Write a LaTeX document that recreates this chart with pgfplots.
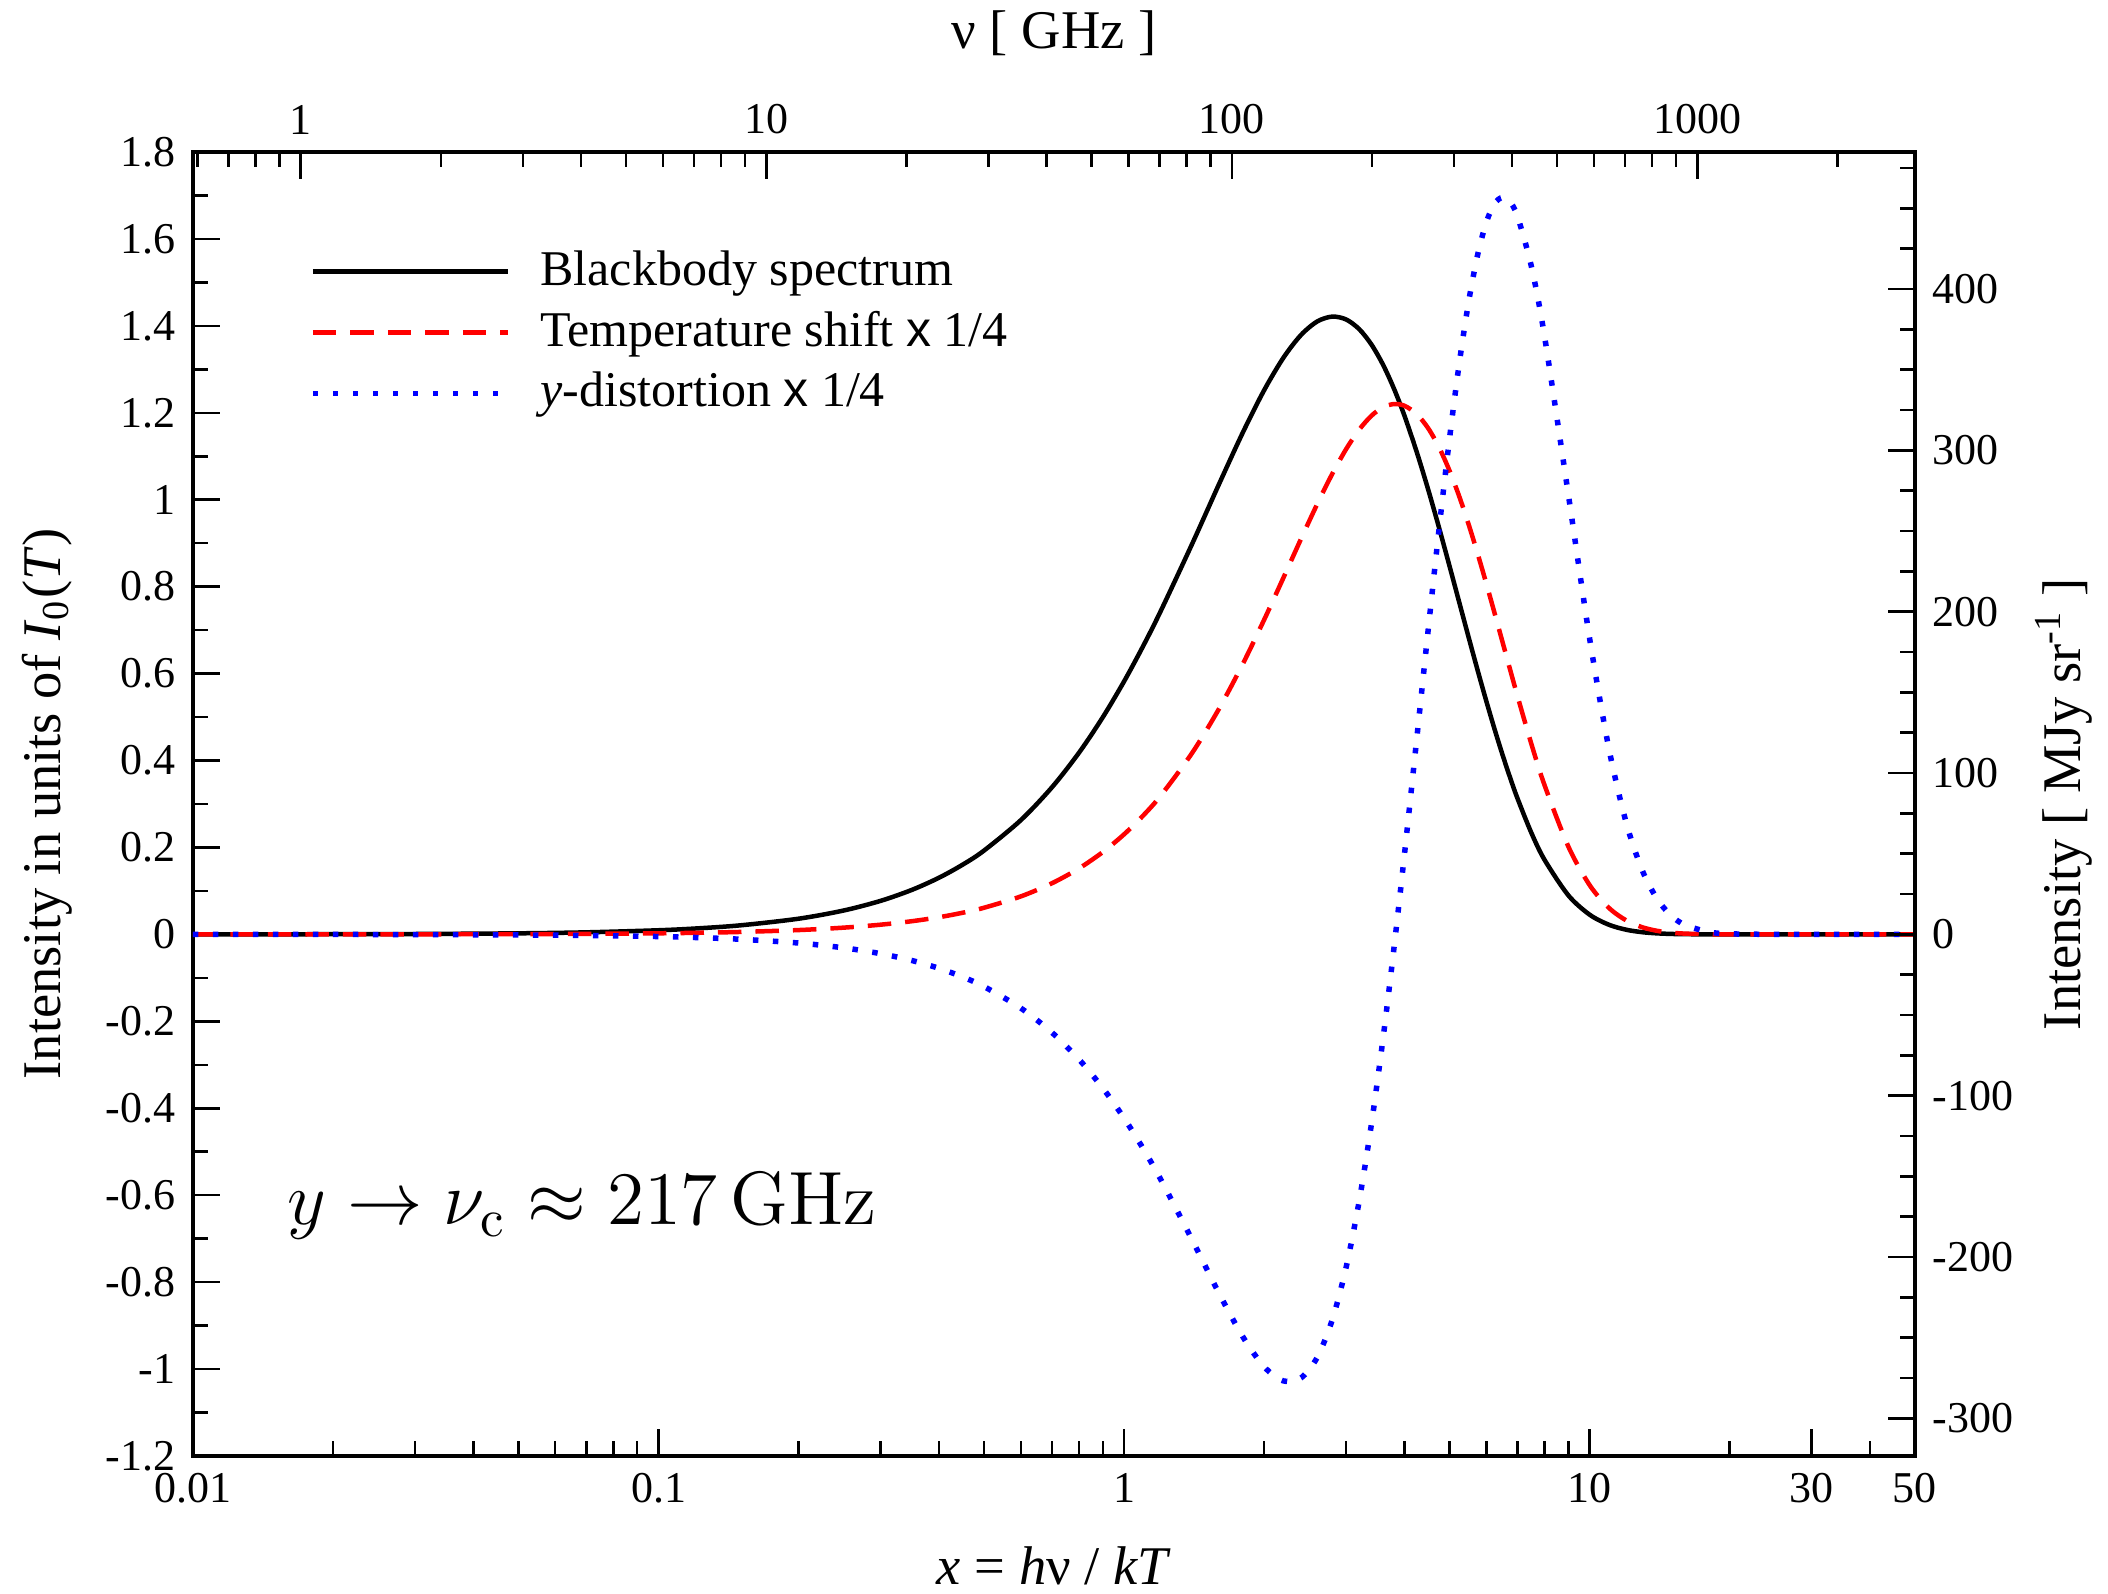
\RequirePackage{fix-cm}
\documentclass[border=0pt]{standalone}
\usepackage[no-math]{fontspec}
\setmainfont{Liberation Serif}
\newfontfamily\sansx{Liberation Sans}
\usepackage{pgfplots}
\usepackage{pgfplotstable}
\pgfplotsset{compat=1.18}

\pgfplotstableread{
x      B        T        Y
0.01   0.00010  0.00003  -0.00005
0.02   0.00040  0.00010  -0.00020
0.03   0.00089  0.00023  -0.00045
0.05   0.00244  0.00062  -0.00125
0.07   0.00473  0.00122  -0.00245
0.1    0.00951  0.00250  -0.00499
0.12   0.01355  0.00360  -0.00718
0.15   0.02086  0.00561  -0.01121
0.2    0.03613  0.00997  -0.01987
0.25   0.05501  0.01554  -0.03093
0.3    0.07717  0.02233  -0.04433
0.35   0.10231  0.03031  -0.06001
0.4    0.13013  0.03947  -0.07789
0.45   0.16034  0.04978  -0.09788
0.5    0.19269  0.06121  -0.11989
0.6    0.26274  0.08735  -0.16949
0.7    0.33835  0.11762  -0.22571
0.8    0.41778  0.15173  -0.28745
0.9    0.49945  0.18937  -0.35351
1.0    0.58198  0.23017  -0.42260
1.1    0.66412  0.27376  -0.49339
1.2    0.74479  0.31974  -0.56453
1.4    0.89814  0.41724  -0.70244
1.6    1.03617  0.51932  -0.82597
1.8    1.15493  0.62264  -0.92592
2.0    1.25214  0.72406  -0.99481
2.2    1.32685  0.82071  -1.02729
2.4    1.37920  0.91008  -1.02030
2.6    1.41017  0.99015  -0.97311
2.8    1.42133  1.05934  -0.88711
3.0    1.41468  1.11661  -0.76558
3.2    1.39247  1.16130  -0.61321
3.4    1.35699  1.19327  -0.43582
3.6    1.31063  1.21272  -0.23980
3.8    1.25562  1.22013  -0.03184
4.0    1.19407  1.21635   0.18155
4.25   1.11085  1.19736   0.44661
4.5    1.02368  1.16458   0.70003
4.75   0.93531  1.12037   0.93317
5.0    0.84796  1.06714   1.13953
5.25   0.76334  1.00716   1.31474
5.5    0.68273  0.94260   1.45645
5.75   0.60701  0.87536   1.56402
6.0    0.53674  0.80711   1.63829
6.25   0.47221  0.73927   1.68123
6.5    0.41350  0.67295   1.69553
6.75   0.36052  0.60909   1.68463
7.0    0.31306  0.54836   1.65208
7.5    0.23346  0.43798   1.53658
8.0    0.17182  0.34374   1.37681
9.0    0.08998  0.20247   1.01281
10     0.04540  0.11351   0.68117
11     0.02223  0.06113   0.42795
12     0.01062  0.03185   0.25481
13     0.00497  0.01614   0.14525
14     0.00228  0.00799   0.07986
15     0.00103  0.00387   0.04259
16     0.00046  0.00184   0.02213
18     0.00009  0.00040   0.00560
20     0.00002  0.00008   0.00132
25     0.00000  0.00000   0.00003
30     0.00000  0.00000   0.00000
50     0.00000  0.00000   0.00000
}\spectra

\begin{document}
\begin{tikzpicture}
\pgfplotsset{
  common/.style={
    scale only axis, width=344.4pt, height=260.8pt,
    /pgf/number format/assume math mode=true,
    ticklabel style={font=\fontsize{8.8}{10}\selectfont},
    major tick length=5.4pt, minor tick length=3pt,
    tick style={black, line width=0.5pt},
    axis line style={line width=0.8pt},
    label style={font=\fontsize{10.9}{12.5}\selectfont},
  }
}
\begin{axis}[common, name=main,
  xmode=log, xmin=0.01, xmax=50, ymin=-1.2, ymax=1.8,
  xtick={0.01,0.1,1,10,30,50}, xticklabels={0.01,0.1,1,10,30,50},
  minor xtick={0.02,0.03,0.04,0.05,0.06,0.07,0.08,0.09,0.2,0.3,0.4,0.5,0.6,0.7,0.8,0.9,2,3,4,5,6,7,8,9,20,40},
  ytick={-1.2,-1,-0.8,-0.6,-0.4,-0.2,0,0.2,0.4,0.6,0.8,1,1.2,1.4,1.6,1.8},
  minor ytick={-1.1,-0.9,-0.7,-0.5,-0.3,-0.1,0.1,0.3,0.5,0.7,0.9,1.1,1.3,1.5,1.7},
  xtick pos=bottom, ytick pos=left,
  xlabel={\textit{x} = \textit{h}ν / \textit{kT}},
  ylabel={Intensity in units of \textit{I}\textsubscript{0}(\textit{T})},
  xlabel style={at={(axis description cs:0.5,-0.0844)}, anchor=center},
  ylabel style={at={(axis description cs:-0.0848,0.5)}, anchor=center},
  legend style={draw=none, fill=none, at={(axis description cs:0.0674,0.933)}, anchor=north west,
    font=\fontsize{10}{12}\selectfont, row sep=-0.3pt, inner sep=0pt,
    /tikz/every odd column/.append style={column sep=4pt}},
  legend cell align=left,
  legend image code/.code={\draw[#1] (0pt,0pt) -- (39pt,0pt);},
]
\addplot[black, line width=0.9pt, smooth] table[x=x, y=B]{\spectra};
\addlegendentry{Blackbody spectrum}
\addplot[red, line width=0.9pt, smooth, dash pattern=on 4.7pt off 2.8pt] table[x=x, y=T]{\spectra};
\addlegendentry{Temperature shift {\sansx x} 1/4}
\addplot[blue, line width=1.1pt, smooth, dash pattern=on 1.1pt off 2.9pt] table[x=x, y=Y]{\spectra};
\addlegendentry{\textit{y}-distortion {\sansx x} 1/4}
\node[anchor=base west, inner sep=0pt, font=\fontsize{15.1}{18}\selectfont] at (axis cs:0.0159,-0.668) {$y \to \nu_{\mathrm{c}} \approx 217\,\mathrm{GHz}$};
\end{axis}
\begin{axis}[common, at={(main.south west)}, anchor=south west,
  xmode=log, xmin=0.587, xmax=2935, ymin=-323.3, ymax=484.9,
  axis x line*=top, axis y line*=right,
  xtick={1,10,100,1000}, xticklabels={1,10,100,1000},
  minor xtick={0.6,0.7,0.8,0.9,2,3,4,5,6,7,8,9,20,30,40,50,60,70,80,90,200,300,400,500,600,700,800,900,2000},
  ytick={-300,-200,-100,0,100,200,300,400},
  minor ytick={-275,-250,-225,-175,-150,-125,-75,-50,-25,25,50,75,125,150,175,225,250,275,325,350,375,425,450,475},
  xlabel={ν [ GHz ]},
  ylabel={Intensity [ MJy sr\textsuperscript{-1} ]},
  xlabel style={at={(axis description cs:0.5,1.091)}, anchor=center},
  ylabel style={at={(axis description cs:1.0865,0.5)}, anchor=center},
]
\addplot[draw=none, forget plot] coordinates {(1,0)};
\end{axis}
\pgfresetboundingbox
\path[use as bounding box] ([xshift=-38.6pt,yshift=-27.6pt]main.south west) rectangle ([xshift=38.6pt,yshift=30.4pt]main.north east);
\end{tikzpicture}
\end{document}
